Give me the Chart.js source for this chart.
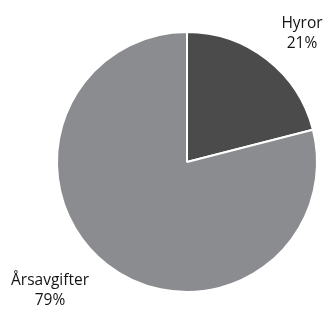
<!DOCTYPE html>
<html>
<head>
<meta charset="utf-8">
<script src="https://cdn.jsdelivr.net/npm/chart.js@4"></script>
<style>
    html, body { margin: 0; padding: 0; background: #ffffff; }
    canvas { display: block; }
</style>
</head>
<body>
<canvas id="pieChart" width="325" height="311"></canvas>
<script>
// data
const labels = ['Hyror', 'Årsavgifter'];
const values = [21, 79];
const colors = ['#4b4b4c', '#8b8c90'];

// where each label is drawn (centre of first line)
const labelSpots = [
    { x: 302, y: 24 },
    { x: 50, y: 281 }
];

const sliceLabels = {
    id: 'sliceLabels',
    afterDraw(chart) {
        const ctx = chart.ctx;
        ctx.save();
        ctx.fillStyle = '#141414';
        ctx.font = '15.5px "Open Sans", sans-serif';
        ctx.textAlign = 'center';
        ctx.textBaseline = 'middle';
        labels.forEach((name, i) => {
            const spot = labelSpots[i];
            ctx.fillText(name, spot.x, spot.y);
            ctx.fillText(values[i] + '%', spot.x, spot.y + 20);
        });
        ctx.restore();
    }
};

const ctxPie = document.getElementById('pieChart').getContext('2d');

new Chart(ctxPie, {
    type: 'pie',
    data: {
        labels: labels,
        datasets: [{
            data: values,
            backgroundColor: colors,
            borderColor: '#ffffff',
            borderWidth: 2
        }]
    },
    options: {
        responsive: false,
        animation: false,
        layout: {
            padding: { left: 56, right: 7, top: 31, bottom: 18 }
        },
        plugins: {
            legend: { display: false },
            tooltip: { enabled: false }
        }
    },
    plugins: [sliceLabels]
});
</script>
</body>
</html>
